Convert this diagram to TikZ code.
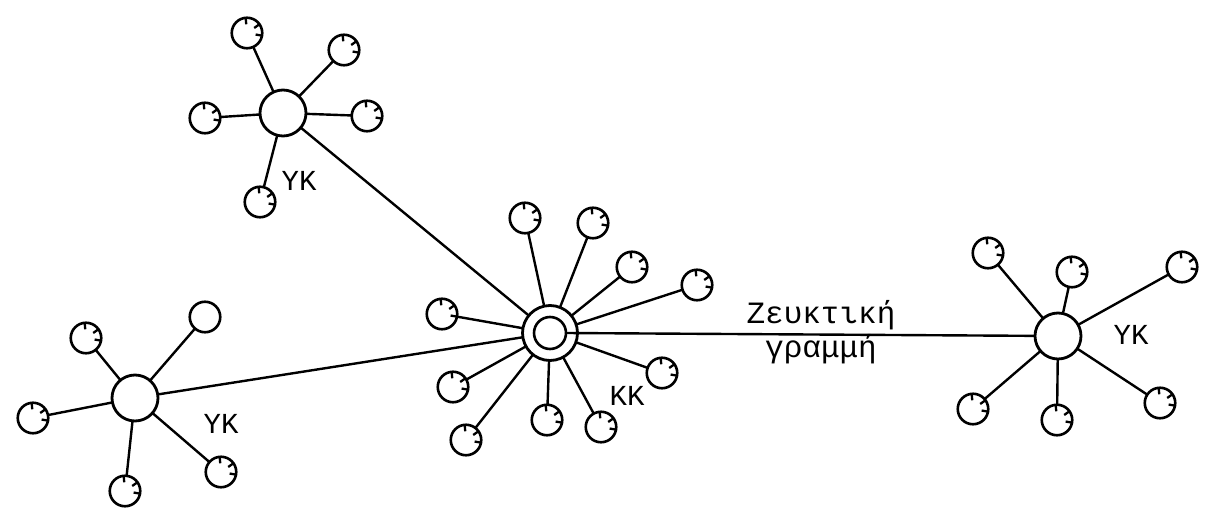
\documentclass[tikz,border=0pt]{standalone}
\usepackage{fontspec}
\newfontfamily\mono{Liberation Mono}
\begin{document}
\begin{tikzpicture}[x=1pt,y=-1pt,
  conn/.style={line width=2.4pt},
  sat/.style={circle, draw, line width=2.6pt, minimum size=30.5pt, inner sep=0pt, outer sep=0pt},
  tsat/.style={sat, path picture={\foreach \a in {95,35,-10}{\draw[line width=2.3pt] (path picture bounding box.center) ++(\a:15.25pt) -- ++(\a+180:6.5pt);}}},
  hub/.style={circle, draw, line width=2.8pt, minimum size=46pt, inner sep=0pt, outer sep=0pt},
  lbl/.style={font=\mono\fontsize{29}{29}\selectfont, anchor=base, inner sep=0pt},
  llbl/.style={font=\mono\fontsize{31}{31}\selectfont, anchor=base, inner sep=0pt}
]
\fill[white] (0,0) rectangle (1209,511);
\useasboundingbox (0,0) rectangle (1209,511);

% central exchange
\node[circle, draw, line width=2.8pt, minimum size=55pt, inner sep=0pt, outer sep=0pt] (KK) at (550,333) {};
\node[circle, draw, line width=2.6pt, minimum size=32pt, inner sep=0pt, outer sep=0pt] (KKi) at (550,333) {};
\foreach \n/\p in {k1/{525,218}, k2/{593,223}, k3/{632,267}, k4/{697,285}, k5/{442,314},
                   k6/{662,373}, k7/{453,387}, k8/{547,420}, k9/{601,427}, k10/{466,440}}{
  \node[tsat] (\n) at (\p) {};
  \draw[conn] (KK) -- (\n);
}
\node[lbl] (lkk) at (627,405) {ΚΚ};

% top-left sub-exchange
\node[hub] (A) at (283,113) {};
\foreach \n/\p in {a1/{247,33}, a2/{344,50}, a3/{205,118}, a4/{367,116}, a5/{260,202}}{
  \node[tsat] (\n) at (\p) {};
  \draw[conn] (A) -- (\n);
}
\node[lbl] (la) at (299,190) {ΥΚ};

% bottom-left sub-exchange
\node[hub] (B) at (135,398) {};
\foreach \n/\p in {b1/{86,338}, b3/{33,418}, b4/{125,491}, b5/{221,472}}{
  \node[tsat] (\n) at (\p) {};
  \draw[conn] (B) -- (\n);
}
\node[sat] (b2) at (205,317) {};
\draw[conn] (B) -- (b2);
\node[lbl] (lb) at (221,433) {ΥΚ};

% right sub-exchange
\node[hub] (C) at (1058,336) {};
\foreach \n/\p in {c1/{988,253}, c2/{1072,272}, c3/{1182,267}, c4/{973,409}, c5/{1057,420}, c6/{1160,403}}{
  \node[tsat] (\n) at (\p) {};
  \draw[conn] (C) -- (\n);
}
\node[lbl] (lc) at (1131,344) {ΥΚ};

% trunk lines
\draw[conn] (A) -- (KK);
\draw[conn] (B) -- (KK);
\draw[conn] (KKi.east) -- (C);
\node[llbl] (z1) at (821,323) {Ζευκτική};
\node[llbl] (z2) at (821,357) {γραμμή};
\end{tikzpicture}
\end{document}
